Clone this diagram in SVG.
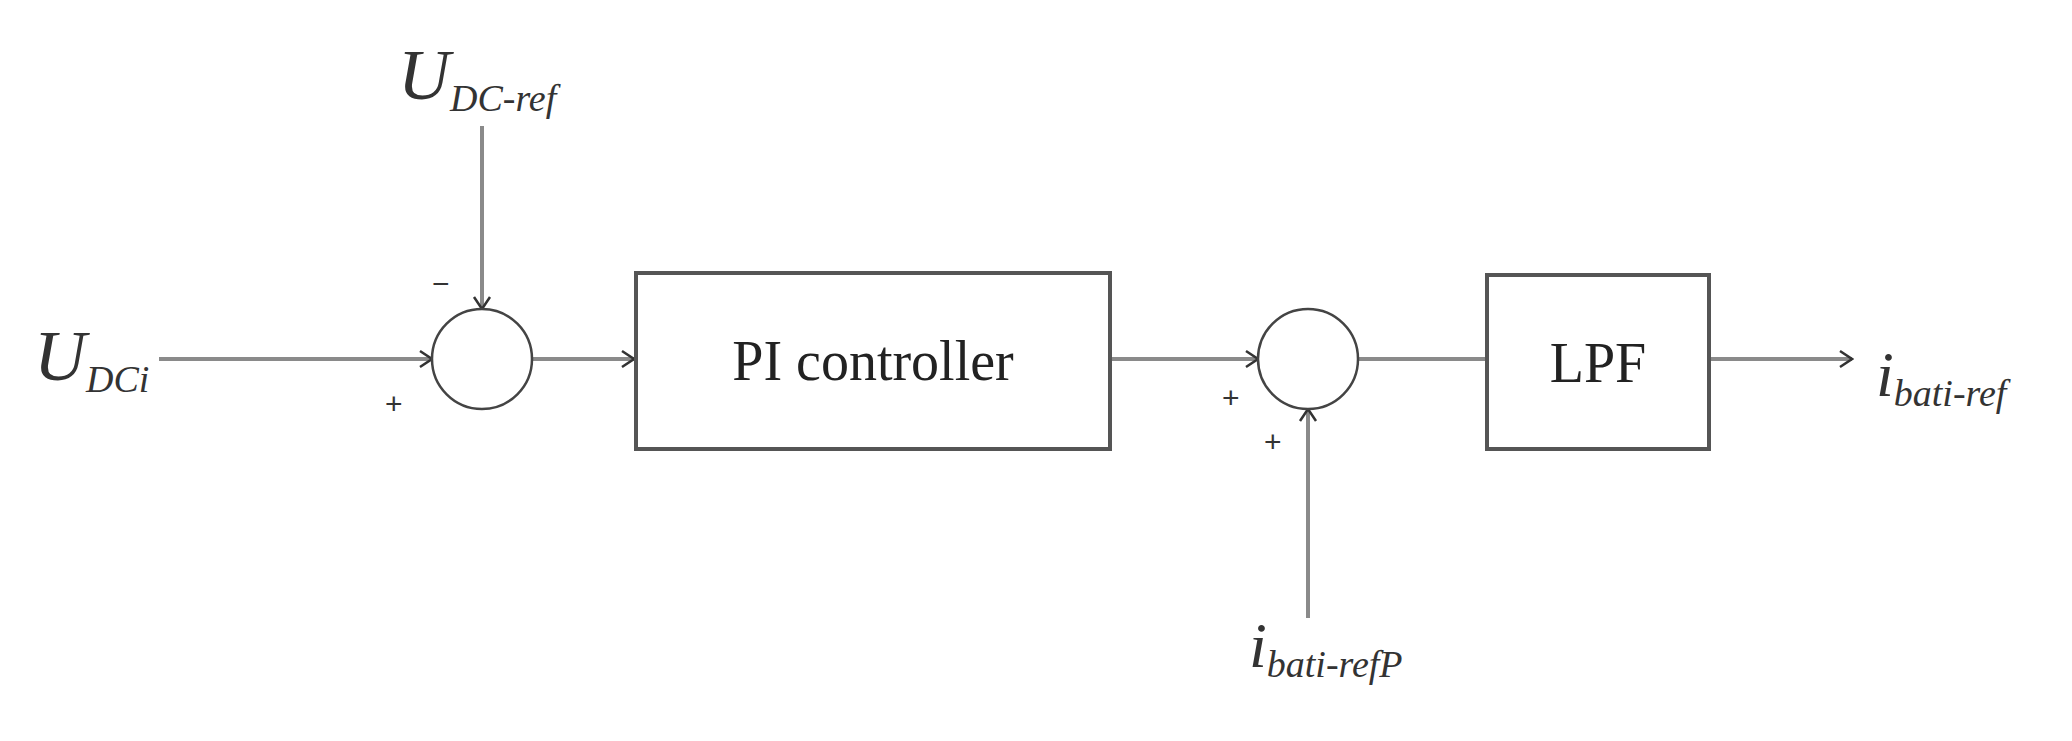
<svg xmlns="http://www.w3.org/2000/svg" width="2072" height="741" viewBox="0 0 2072 741">
<style>
.ln{stroke:#8a8a8a;stroke-width:4;fill:none}
.bx{stroke:#555;stroke-width:4;fill:#fff}
.t{font-family:"Liberation Serif",serif;fill:#222}
.it{font-family:"Liberation Serif",serif;font-style:italic;fill:#333}
.s{font-family:"Liberation Sans",sans-serif;fill:#333;font-size:30px}
</style>
<defs><marker id="a" markerWidth="16" markerHeight="20" refX="14" refY="10" orient="auto" markerUnits="userSpaceOnUse"><path d="M2,2 L14,10 L2,18" fill="none" stroke="#333" stroke-width="2.5"/></marker></defs>
<g id="connectors">
<line class="ln" x1="159" y1="359" x2="432" y2="359" marker-end="url(#a)"/>
<line class="ln" x1="482" y1="126" x2="482" y2="309" marker-end="url(#a)"/>
<line class="ln" x1="531" y1="359" x2="634" y2="359" marker-end="url(#a)"/>
<line class="ln" x1="1112" y1="359" x2="1258" y2="359" marker-end="url(#a)"/>
<line class="ln" x1="1308" y1="618" x2="1308" y2="409" marker-end="url(#a)"/>
<line class="ln" x1="1358" y1="359" x2="1487" y2="359"/>
<line class="ln" x1="1711" y1="359" x2="1852" y2="359" marker-end="url(#a)"/>
</g>
<g id="sum1"><ellipse cx="482" cy="359" rx="50" ry="50" fill="#fff" stroke="#444" stroke-width="2.5"/>
<text class="s" x="385" y="414">+</text><text class="s" x="432" y="294">−</text></g>
<g id="pi"><rect class="bx" x="636" y="273" width="474" height="176"/><text class="t" x="873" y="380" font-size="56" text-anchor="middle">PI controller</text></g>
<g id="sum2"><ellipse cx="1308" cy="359" rx="50" ry="50" fill="#fff" stroke="#444" stroke-width="2.5"/>
<text class="s" x="1222" y="408">+</text><text class="s" x="1264" y="452">+</text></g>
<g id="lpf"><rect class="bx" x="1487" y="275" width="222" height="174"/><text class="t" x="1598" y="382" font-size="56" text-anchor="middle">LPF</text></g>
<g id="labels">
<text class="it" x="398" y="99" font-size="72">U<tspan font-size="38" dy="12">DC-ref</tspan></text>
<text class="it" x="34" y="380" font-size="72">U<tspan font-size="38" dy="12">DCi</tspan></text>
<text class="it" x="1876" y="396" font-size="64">i<tspan font-size="38" dy="10">bati-ref</tspan></text>
<text class="it" x="1249" y="667" font-size="64">i<tspan font-size="38" dy="10">bati-refP</tspan></text>
</g>
</svg>
